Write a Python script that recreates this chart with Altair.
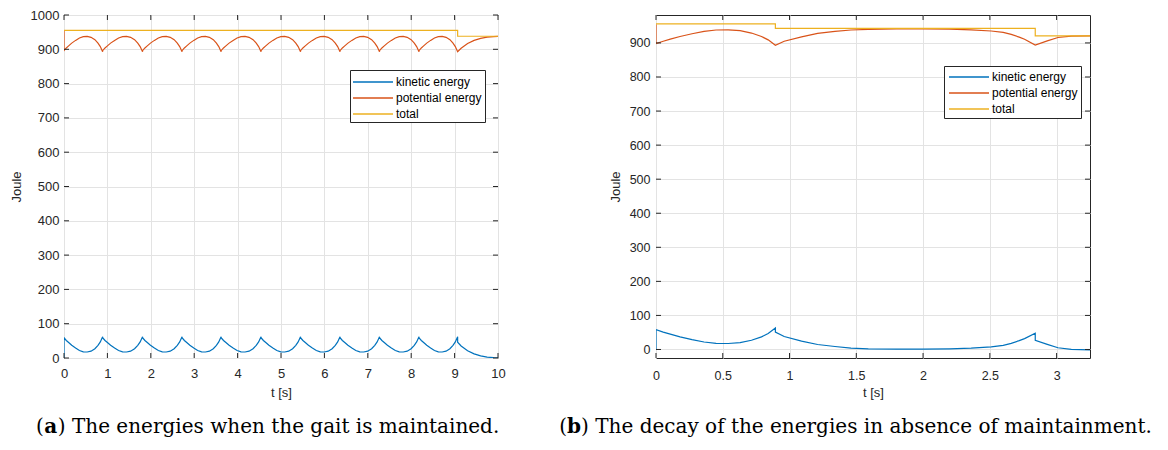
import altair as alt
import pandas as pd

SERIES = ["kinetic energy", "potential energy", "total"]
COLORS = ["#0072BD", "#D95319", "#EDB120"]

# ---- panel (a): gait maintained ----
# one step of the gait (fraction of step, Joule)
STEP_PHASE = [0, 0.06, 0.12, 0.2, 0.3, 0.4, 0.5, 0.6, 0.7, 0.8, 0.88, 0.94, 1.0]
STEP_KIN = [59, 51, 45, 37, 29, 22, 18, 17.5, 20, 27, 37, 47, 62]
STEP_POT = [896, 904, 910, 918, 926, 933, 937, 937.5, 935, 928, 918, 908, 893]
# heel strikes (step boundaries), seconds
A_STEPS = [0, 0.89, 1.81, 2.72, 3.62, 4.54, 5.45, 6.36, 7.27, 8.18, 9.07]
A_START_KIN = 0
A_START_POT = 955
A_TAIL_T = [9.07, 9.15, 9.3, 9.45, 9.6, 9.75, 9.9, 10.0]
A_TAIL_KIN = [46, 35, 21, 12, 6, 2.5, 1, 0.5]
A_TAIL_POT = [892, 903, 917, 926, 932, 935.5, 937, 937.5]
A_TOTAL_T = [0, 9.07, 9.07, 10]
A_TOTAL = [955, 955, 938, 938]

# ---- panel (b): decay without maintainment ----
B_KIN_T = [0, 0, 0.054, 0.107, 0.18, 0.27, 0.36, 0.45, 0.54, 0.63, 0.715, 0.79, 0.84,
           0.894, 0.894, 0.96, 1.09, 1.21, 1.34, 1.46, 1.59, 1.8, 2.0, 2.2, 2.36, 2.51,
           2.6, 2.66, 2.72, 2.76, 2.84, 2.84, 2.93, 3.01, 3.11, 3.25]
B_KIN = [0, 58, 51, 45, 37, 29, 22, 18, 17.5, 20, 27, 37, 47,
         63, 51, 38, 24.5, 14.7, 8.8, 4, 2, 1, 1, 2, 4, 7.5,
         12, 18, 26, 32, 48, 27, 15, 5, 0.5, -1]
B_POT_T = [0, 0, 0.054, 0.107, 0.18, 0.27, 0.36, 0.45, 0.54, 0.63, 0.715, 0.79, 0.84,
           0.894, 0.96, 1.09, 1.21, 1.34, 1.46, 1.59, 1.8, 2.0, 2.2, 2.36, 2.51,
           2.6, 2.66, 2.72, 2.76, 2.84, 2.93, 3.01, 3.11, 3.25]
B_POT = [955, 898, 905, 911, 919, 927, 934, 938, 938.5, 936, 929, 919, 909,
         893, 905, 918, 928, 934, 938, 940, 941, 941, 940.5, 938.5, 935,
         931, 925, 917, 911, 894, 906, 916, 920, 921]
B_TOTAL_T = [0, 0.894, 0.894, 2.84, 2.84, 3.25]
B_TOTAL = [956, 956, 943, 943, 921, 921]

A_XTICKS = list(range(0, 11))
A_YTICKS = list(range(0, 1001, 100))
B_XTICKS = [0, 0.5, 1, 1.5, 2, 2.5, 3]
B_YTICKS = list(range(0, 901, 100))

CAPTION_A = ("a", ") The energies when the gait is maintained.")
CAPTION_B = ("b", ") The decay of the energies in absence of maintainment.")


def rows(ts, es, name):
    return [{"t": t, "E": e, "series": name} for t, e in zip(ts, es)]


# table for panel (a)
a_kin_t, a_kin, a_pot_t, a_pot = [0], [A_START_KIN], [0], [A_START_POT]
for s0, s1 in zip(A_STEPS[:-1], A_STEPS[1:]):
    for ph, k, p in zip(STEP_PHASE, STEP_KIN, STEP_POT):
        tt = s0 + ph * (s1 - s0)
        a_kin_t.append(tt)
        a_kin.append(k)
        a_pot_t.append(tt)
        a_pot.append(p)
a_kin_t += A_TAIL_T
a_kin += A_TAIL_KIN
a_pot_t += A_TAIL_T[1:]
a_pot += A_TAIL_POT[1:]

df_a = pd.DataFrame(rows(a_kin_t, a_kin, SERIES[0]) + rows(a_pot_t, a_pot, SERIES[1])
                    + rows(A_TOTAL_T, A_TOTAL, SERIES[2]))
df_a["i"] = range(len(df_a))
df_b = pd.DataFrame(rows(B_KIN_T, B_KIN, SERIES[0]) + rows(B_POT_T, B_POT, SERIES[1])
                    + rows(B_TOTAL_T, B_TOTAL, SERIES[2]))
df_b["i"] = range(len(df_b))

W, H = 434, 343
AX = "#262626"
SANS = "Liberation Sans"
SERIF = "DejaVu Serif"
one = pd.DataFrame({"k": [0]})


def panel(df, xdom, ydom, xticks, yticks, xfmt, lab_size, xpad, ypad, joule_x,
          leg, caption, cap_x, anchor=False):
    xs = alt.Scale(domain=xdom, nice=False, zero=False)
    ys = alt.Scale(domain=ydom, nice=False, zero=False)
    xax = alt.Axis(values=xticks, format=xfmt, title="t [s]", grid=True, ticks=False,
                   domain=False, labelPadding=xpad, labelFontSize=lab_size,
                   labelFlush=False, labelOverlap=False,
                   titleX=W / 2, titleY=34, titleBaseline="middle", titleAlign="center")
    yax = alt.Axis(values=yticks, format="d", title="Joule", grid=True, ticks=False,
                   domain=False, labelPadding=ypad, labelFontSize=lab_size,
                   labelFlush=False, labelOverlap=False,
                   titleAngle=270, titleX=joule_x, titleY=H / 2,
                   titleAlign="center", titleBaseline="middle")
    lines = alt.Chart(df).mark_line(strokeWidth=1.2, clip=True).encode(
        x=alt.X("t:Q", scale=xs, axis=xax, title="t [s]"),
        y=alt.Y("E:Q", scale=ys, axis=yax, title="Joule"),
        color=alt.Color("series:N", scale=alt.Scale(domain=SERIES, range=COLORS),
                        legend=None),
        order="i:Q",
    )
    xt = pd.DataFrame({"v": xticks})
    yt = pd.DataFrame({"v": yticks})
    tl = 5
    ticks = [
        alt.Chart(xt).mark_rule(color=AX, strokeWidth=1).encode(
            x=alt.X("v:Q", scale=xs, axis=xax, title="t [s]"),
            y=alt.value(0), y2=alt.value(tl)),
        alt.Chart(xt).mark_rule(color=AX, strokeWidth=1).encode(
            x=alt.X("v:Q", scale=xs, axis=xax, title="t [s]"),
            y=alt.value(H), y2=alt.value(H - tl)),
        alt.Chart(yt).mark_rule(color=AX, strokeWidth=1).encode(
            y=alt.Y("v:Q", scale=ys, axis=yax, title="Joule"),
            x=alt.value(0), x2=alt.value(tl)),
        alt.Chart(yt).mark_rule(color=AX, strokeWidth=1).encode(
            y=alt.Y("v:Q", scale=ys, axis=yax, title="Joule"),
            x=alt.value(W), x2=alt.value(W - tl)),
    ]
    bx0, bx1, by0, by1, lx0, lx1, tx, rys = leg
    legend = [alt.Chart(one).mark_rect(fill="white", stroke=AX, strokeWidth=1).encode(
        x=alt.value(bx0), x2=alt.value(bx1), y=alt.value(by0), y2=alt.value(by1))]
    for name, col, yy in zip(SERIES, COLORS, rys):
        legend.append(alt.Chart(one).mark_rule(color=col, strokeWidth=1.4).encode(
            x=alt.value(lx0), x2=alt.value(lx1), y=alt.value(yy)))
        legend.append(alt.Chart(one).mark_text(
            text=name, align="left", baseline="middle", font=SANS, fontSize=12,
            color="#000000").encode(x=alt.value(tx), y=alt.value(yy)))
    fs = 20
    cap_y = 418
    letter, rest = caption
    bw = 0.70 * fs
    cap = [
        alt.Chart(one).mark_text(text="(", align="left", baseline="alphabetic",
                                 font=SERIF, fontSize=fs, color="black").encode(
            x=alt.value(cap_x), y=alt.value(cap_y)),
        alt.Chart(one).mark_text(text=letter, align="center", baseline="alphabetic",
                                 font=SERIF, fontSize=fs, fontWeight="bold",
                                 color="black").encode(
            x=alt.value(cap_x + 0.39 * fs + bw / 2), y=alt.value(cap_y)),
        alt.Chart(one).mark_text(text=rest, align="left", baseline="alphabetic",
                                 font=SERIF, fontSize=fs, color="black").encode(
            x=alt.value(cap_x + 0.39 * fs + bw), y=alt.value(cap_y)),
    ]
    layers = [lines] + ticks + legend + cap
    if anchor:
        layers.append(alt.Chart(one).mark_rule(color="white", strokeWidth=1).encode(
            x=alt.value(-62.5), x2=alt.value(-60.5), y=alt.value(-13.5)))
    return alt.layer(*layers).resolve_scale(color="independent").properties(
        width=W, height=H)


left = panel(df_a, [0, 10], [0, 1000], A_XTICKS, A_YTICKS, "d", 13, 9, 5, -48,
             (286.5, 421.5, 55.5, 107.5, 289, 329, 332, [67, 83, 99]),
             CAPTION_A, -28, anchor=True)
right = panel(df_b, [0, 3.25], [-25, 982], B_XTICKS, B_YTICKS, ".1~f", 12.5, 11, 6, -41,
              (288.5, 425.5, 51.5, 103.5, 293, 333, 336, [62, 78, 94]),
              CAPTION_B, -96.7)

chart = alt.hconcat(left, right, spacing=158, bounds="flush").properties(
    padding=0
).configure_view(stroke=AX, strokeWidth=1).configure_axis(
    labelFont=SANS, titleFont=SANS, labelColor=AX, titleColor=AX,
    titleFontSize=13, titleFontWeight="normal", gridColor="#e3e3e3",
    gridWidth=1)

chart.save("out.html", embed_options={"renderer": "svg", "actions": False})
